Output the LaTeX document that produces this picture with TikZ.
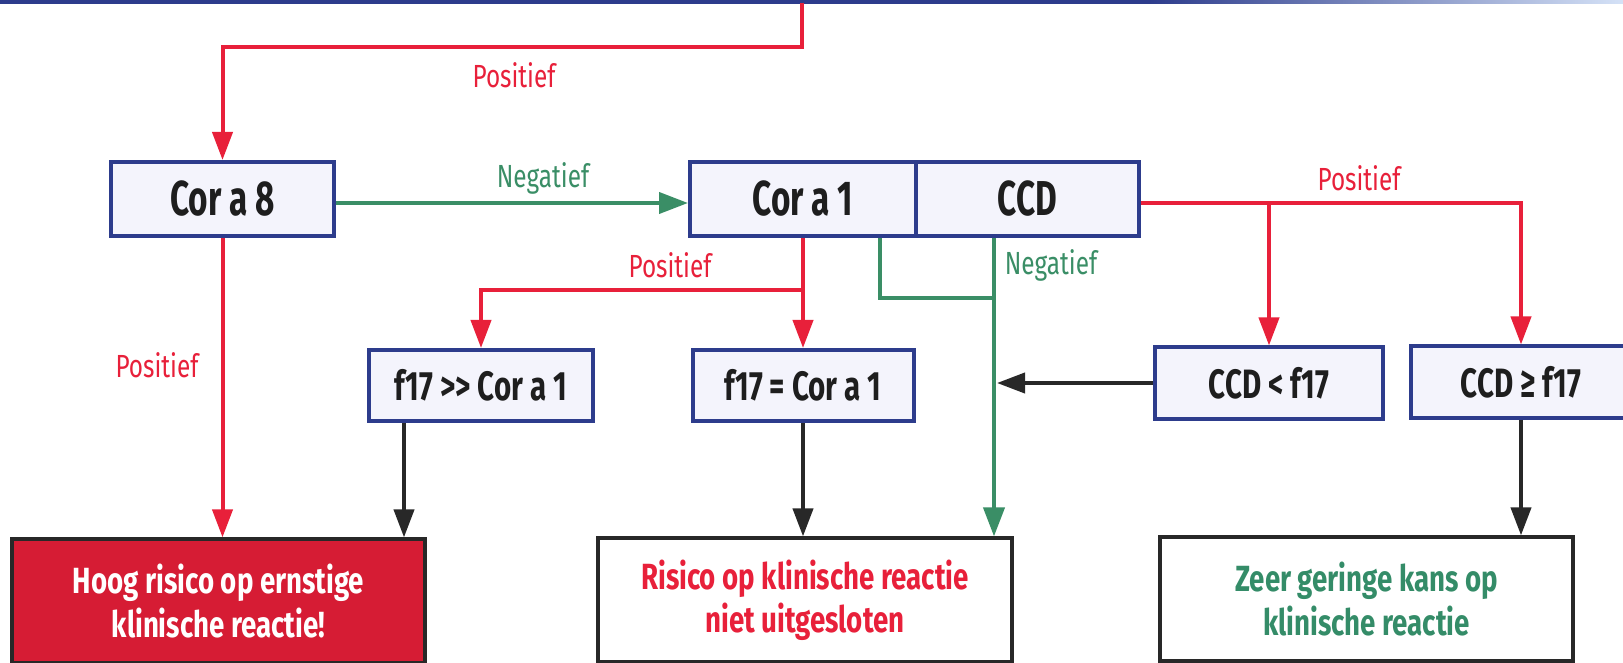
\documentclass[tikz,border=0pt]{standalone}
\usepackage{fontspec}
\setmainfont{Fira Sans}[FakeStretch=0.76]
\newfontfamily\condf{Fira Sans}[FakeStretch=0.68]
\newfontfamily\condg{Fira Sans}[FakeStretch=0.72]
\usetikzlibrary{arrows.meta,calc}
\definecolor{redc}{RGB}{232,32,58}
\definecolor{hoogc}{RGB}{214,28,52}
\definecolor{greenc}{RGB}{58,142,102}
\definecolor{greent}{RGB}{52,140,104}
\definecolor{bluec}{RGB}{45,60,140}
\definecolor{lightb}{RGB}{215,228,248}
\definecolor{fillc}{RGB}{244,244,252}
\definecolor{blackc}{RGB}{40,40,40}
\definecolor{textc}{RGB}{30,30,30}
\begin{document}
\begin{tikzpicture}[x=0.5pt,y=-0.5pt,
 box/.style={draw=bluec,line width=2pt,fill=fillc,text=textc,inner sep=0pt,font=\condf\bfseries\fontsize{24.5}{27}\selectfont,minimum height=37pt},
 sbox/.style={box,font=\condg\bfseries\fontsize{20.5}{23}\selectfont,minimum height=35.5pt},
 obox/.style={draw=blackc,line width=1.6pt,align=center,inner sep=0pt,font=\bfseries\fontsize{18.2}{21.7}\selectfont,minimum height=62pt},
 lbl/.style={font=\fontsize{16}{18}\selectfont,inner sep=0pt},
 rline/.style={draw=redc,line width=2pt},
 gline/.style={draw=greenc,line width=2pt},
 bline/.style={draw=blackc,line width=2pt},
 tipr/.style={-{Triangle[width=10pt,length=14pt]}},
 tipg/.style={-{Triangle[width=10.5pt,length=14.5pt]}},
]
\useasboundingbox (0,0) rectangle (1623,663);
\fill[white] (0,0) rectangle (1623,663);
% top box edge (cut off)
\fill[bluec] (-10,-20) rectangle (1150,4);
\shade[left color=bluec,right color=lightb] (1149,-20) rectangle (1630,4);
\coordinate (topstart) at (802,3);
\coordinate (tr) at (802,47);
% boxes
\node[box,minimum width=111.5pt] (cor8) at (222.5,199) {Cor a 8};
\node[box,minimum width=113pt] (cor1) at (803,199) {Cor a 1};
\node[box,minimum width=111.5pt] (ccd) at (1027.5,199) {CCD};
\node[sbox,minimum width=112pt] (f17gg) at (481,385.5) {f17 {>}{>} Cor a 1};
\node[sbox,minimum width=110.5pt] (f17eq) at (803,385.5) {f17 = Cor a 1};
\node[sbox,minimum width=114pt] (ccdl) at (1269,383) {CCD < f17};
\node[sbox,minimum width=110pt] (ccdge) at (1521,382) {CCD ≥ f17};
\node[obox,fill=hoogc,text=white,minimum width=206.5pt] (hoog) at (218.5,601) {Hoog risico op ernstige\\klinische reactie!};
\node[obox,fill=white,text=redc,minimum width=207pt] (risico) at (805,600) {Risico op klinische reactie\\niet uitgesloten};
\node[obox,fill=white,text=greent,minimum width=206.5pt] (zeer) at (1366.5,599) {Zeer geringe kans op\\klinische reactie};
% helper coordinates
\coordinate (ym) at (0,290);
\coordinate (gx) at (880,0);
\coordinate (gy) at (0,298);
\coordinate (gm) at (994,0);
\coordinate (gmr) at (997,0);
\coordinate (bx1) at (404,0);
% connectors
\draw[rline,tipr] (topstart) -- (tr) -| (cor8.north);
\draw[gline,tipg] ([yshift=-2pt]cor8.east) -- ([yshift=-2pt]cor1.west);
\coordinate (rb) at ([yshift=-2pt]ccd.east);
\draw[rline,tipr] (rb) -| (ccdge.north);
\draw[rline,tipr] (rb -| ccdl.north) -- (ccdl.north);
\draw[rline,tipr] (cor1.south) -- (f17eq.north);
\draw[rline,tipr] (cor1.south |- ym) -| (f17gg.north);
\draw[gline] (cor1.south -| gx) |- (gy -| gm);
\draw[gline,tipg] (ccd.south -| gm) -- (risico.north -| gm);
\draw[bline,tipr] (ccdl.west) -- (gmr |- ccdl.west);
\draw[rline,tipr] (cor8.south) -- (hoog.north -| cor8.south);
\draw[bline,tipr] (f17gg.south -| bx1) -- (hoog.north -| bx1);
\draw[bline,tipr] (f17eq.south) -- (risico.north -| f17eq.south);
\draw[bline,tipr] (ccdge.south) -- (zeer.north -| ccdge.south);
% labels
\node[lbl,text=redc] (l1) at (514,75) {Positief};
\node[lbl,text=greenc] (l2) at (543,178) {Negatief};
\node[lbl,text=redc] (l3) at (1359,178) {Positief};
\node[lbl,text=redc] (l4) at (670,265) {Positief};
\node[lbl,text=greenc] (l5) at (1051,265) {Negatief};
\node[lbl,text=redc] (l6) at (157,365) {Positief};
\end{tikzpicture}
\end{document}
